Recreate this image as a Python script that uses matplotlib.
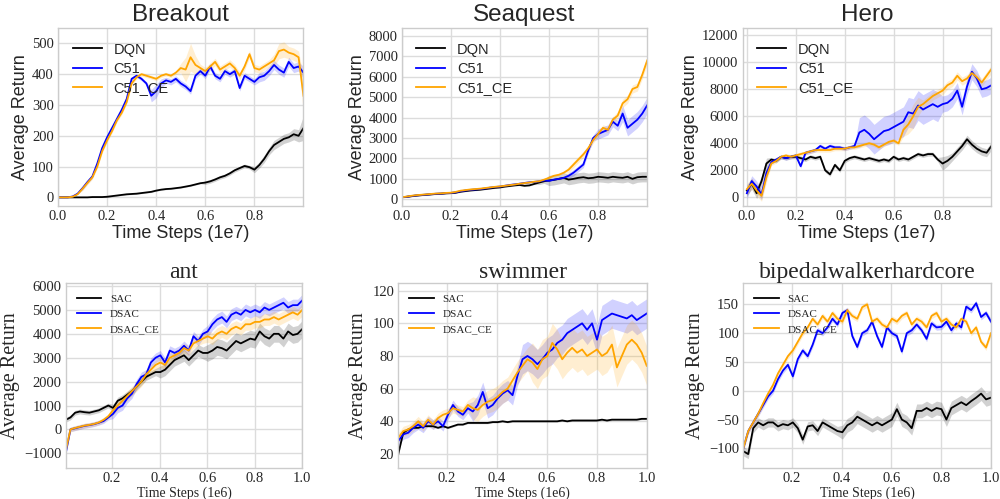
import numpy as np
import matplotlib
matplotlib.use("Agg")
import matplotlib.pyplot as plt

# ---- Atari (x in 1e7 steps) ----
atari_steps = np.linspace(0, 1.0, 51)

breakout_dqn = [0, 0, 0, 0, 0, 0, 0, 1, 1, 1,
                2, 4, 6, 8, 10, 11, 12, 14, 16, 18,
                22, 25, 27, 28, 30, 32, 35, 38, 42, 46,
                48, 52, 58, 65, 70, 78, 88, 95, 102, 98,
                90, 105, 125, 150, 170, 180, 190, 195, 205, 200,
                225]
breakout_c51 = [0, 0, 0, 3, 12, 30, 50, 68, 110, 160,
                195, 225, 255, 285, 320, 385, 395, 385, 370, 330,
                345, 370, 380, 375, 385, 370, 360, 345, 395, 410,
                395, 425, 395, 385, 410, 400, 410, 355, 395, 385,
                375, 390, 395, 410, 430, 415, 405, 440, 420, 425,
                405]
breakout_c51ce = [0, 0, 0, 2, 10, 28, 47, 65, 100, 150,
                  185, 215, 250, 275, 310, 370, 390, 400, 395, 390,
                  385, 395, 400, 395, 405, 420, 415, 455, 430, 420,
                  410, 425, 440, 415, 425, 435, 420, 395, 425, 465,
                  420, 415, 425, 435, 445, 475, 480, 470, 465, 455,
                  330]
breakout_dqn_sd = [0] * 10 + [2] * 20 + [6] * 10 + [10, 10, 12, 12, 15, 15, 15, 15, 18, 20, 40]
breakout_c51_sd = [0] * 5 + [6] * 14 + [20, 22, 15] + [10] * 19 + [15] * 9 + [20]
breakout_c51ce_sd = [0] * 5 + [6] * 20 + [15, 40, 45, 30] + [12] * 15 + [20, 25, 25, 20, 20, 20, 60]

seaquest_dqn = [100, 120, 150, 180, 200, 220, 240, 260, 270, 290,
                300, 320, 370, 400, 430, 450, 470, 500, 530, 560,
                580, 620, 650, 680, 700, 660, 680, 750, 820, 880,
                920, 950, 1000, 1050, 960, 1000, 1050, 1080, 1030, 1050,
                1100, 1080, 1050, 1100, 1070, 1050, 1100, 1000, 1080, 1100,
                1100]
seaquest_c51 = [100, 120, 160, 190, 210, 230, 250, 270, 280, 300,
                310, 340, 390, 430, 460, 480, 500, 530, 570, 600,
                620, 660, 700, 730, 760, 800, 830, 850, 880, 920,
                900, 960, 1000, 1050, 1150, 1300, 1500, 1700, 2400, 3000,
                3200, 3300, 3400, 3800, 3600, 4200, 3500, 3700, 3900, 4200,
                4600]
seaquest_c51ce = [100, 130, 170, 200, 220, 240, 260, 280, 290, 310,
                  320, 360, 420, 450, 480, 500, 520, 550, 580, 610,
                  630, 660, 690, 720, 760, 790, 820, 860, 880, 960,
                  1050, 1150, 1200, 1300, 1450, 1700, 1950, 2200, 2500, 2900,
                  3200, 3500, 3400, 3900, 4100, 4700, 4900, 5400, 5500, 6100,
                  6800]
seaquest_dqn_sd = [30] * 28 + [100] * 2 + [250] * 21
seaquest_c51_sd = [30] * 34 + [150] * 6 + [250] * 5 + [400] * 6
seaquest_c51ce_sd = [30] * 34 + [150] * 10 + [200] * 7

hero_dqn = [500, 1000, 300, 1200, 2500, 2800, 2700, 3000, 2900, 3000,
            3000, 2900, 2800, 3000, 2900, 3000, 2000, 1700, 2400, 2000,
            2700, 2900, 3000, 2900, 2800, 2900, 2800, 2700, 2800, 2700,
            3000, 2800, 2900, 2800, 3000, 3200, 3100, 3200, 3200, 2800,
            2500, 2700, 3000, 3400, 3800, 4300, 3900, 3600, 3400, 3300,
            3800]
hero_c51 = [300, 1200, 800, 200, 1800, 2600, 2800, 3000, 2900, 3000,
            3100, 2300, 3300, 3400, 3500, 3800, 3600, 3800, 3700, 3700,
            3600, 3700, 3800, 4800, 5000, 4700, 4300, 4600, 4900, 5000,
            5200, 5400, 5600, 6300, 6200, 6800, 6500, 6700, 6900, 6700,
            6900, 7000, 7300, 7900, 6700, 8200, 9300, 8800, 8000, 8100,
            8300]
hero_c51ce = [600, 1000, 500, 100, 1500, 2500, 2700, 3000, 3100, 3000,
              3100, 3200, 3300, 3400, 3500, 3500, 3500, 3500, 3600, 3600,
              3600, 3700, 3700, 3800, 3900, 4000, 3900, 3700, 3900, 4100,
              4200, 4000, 5000, 5400, 6000, 6700, 6900, 7200, 7500, 7700,
              7900, 8300, 8500, 9000, 8600, 8800, 9200, 8900, 8500, 9000,
              9500]
hero_dqn_sd = [400] * 5 + [150] * 35 + [500, 400, 300] + [300] * 8
hero_c51_sd = [400] * 5 + [150] * 18 + [1100] * 17 + [600] * 11
hero_c51ce_sd = [400] * 5 + [150] * 27 + [500, 700, 900, 700] + [300] * 15

# ---- MuJoCo / Box2D (x in 1e6 steps) ----
cont_steps = np.linspace(0.005, 1.0, 51)

ant_sac = [400, 500, 700, 750, 720, 700, 750, 800, 900, 1000,
           900, 1200, 1300, 1450, 1600, 1800, 2000, 2200, 2300, 2400,
           2400, 2500, 2700, 2900, 3000, 3100, 2900, 3100, 3300, 3200,
           3200, 3300, 3450, 3400, 3300, 3500, 3700, 3600, 3700, 3800,
           3750, 4100, 3900, 3800, 4000, 4000, 3800, 4100, 3950, 4000,
           4200]
ant_dsac = [-1000, 0, 50, 100, 150, 180, 220, 280, 350, 500,
            650, 900, 1000, 1300, 1500, 1900, 2200, 2300, 2800, 3000,
            3100, 2800, 3300, 3200, 3300, 3500, 3300, 3900, 3700, 4000,
            4100, 4400, 4600, 4700, 4500, 4800, 4900, 4800, 5000, 4900,
            5000, 4900, 5100, 5000, 5100, 5200, 5300, 5100, 5200, 5200,
            5400]
ant_dsacce = [-900, 0, 60, 110, 160, 190, 230, 290, 400, 550,
              800, 1000, 1200, 1400, 1600, 1800, 2000, 2300, 2500, 2700,
              2800, 2700, 3000, 3100, 3200, 3400, 3300, 3600, 3700, 3800,
              3900, 3800, 4000, 4100, 4000, 4200, 4300, 4200, 4400, 4400,
              4500, 4500, 4600, 4600, 4700, 4600, 4700, 4800, 4900, 4800,
              5000]
ant_sac_sd = [100] * 10 + [150] * 10 + [250] * 10 + [350] * 21
ant_dsac_sd = [100] * 10 + [200] * 20 + [250] * 21
ant_dsacce_sd = [100] * 10 + [200] * 20 + [250] * 21

swimmer_sac = [20, 33, 35, 36, 36, 37, 37, 37, 36, 37,
               36, 37, 38, 38, 39, 39, 39, 39, 39, 39.5,
               39.5, 40, 39.5, 40, 40, 40, 40, 40, 40, 40,
               40, 40, 40, 40.5, 40, 40.5, 40.5, 40.5, 40.5, 40.5,
               40.5, 41, 40.5, 41, 41, 41, 41, 41, 41, 41.5,
               41.5]
swimmer_dsac = [28, 32, 33, 36, 38, 36, 40, 38, 40, 37,
                44, 50, 46, 44, 48, 46, 50, 58, 48, 50,
                54, 57, 59, 56, 68, 78, 80, 78, 75, 78,
                82, 84, 88, 90, 94, 96, 98, 100, 96, 100,
                90, 102, 104, 106, 105, 104, 103, 105, 102, 104,
                106]
swimmer_dsacce = [30, 34, 35, 37, 40, 37, 41, 38, 42, 44,
                  45, 48, 47, 46, 50, 48, 47, 50, 52, 53,
                  55, 58, 60, 65, 70, 74, 78, 76, 72, 78,
                  80, 88, 84, 78, 82, 85, 82, 84, 80, 82,
                  84, 80, 82, 87, 73, 80, 87, 90, 87, 82,
                  74]
swimmer_sac_sd = [0.5] * 51
swimmer_dsac_sd = [3] * 15 + [6] * 10 + [9] * 26
swimmer_dsacce_sd = [3] * 15 + [7] * 12 + [12] * 24

biped_sac = [-105, -110, -65, -55, -60, -55, -55, -62, -58, -60,
             -55, -65, -85, -62, -60, -70, -55, -60, -65, -70,
             -72, -60, -55, -45, -50, -55, -60, -55, -60, -55,
             -50, -32, -50, -55, -65, -35, -35, -30, -35, -30,
             -32, -50, -30, -25, -20, -25, -18, -12, -5, -15,
             -12]
biped_dsac = [-100, -70, -55, -40, -25, -10, 0, 20, 35, 45,
              25, 55, 70, 60, 80, 105, 100, 110, 125, 115,
              135, 140, 95, 76, 100, 105, 120, 95, 76, 110,
              100, 95, 68, 100, 105, 115, 105, 90, 117, 110,
              111, 120, 105, 117, 110, 146, 140, 152, 128, 135,
              120]
biped_dsacce = [-100, -70, -55, -40, -22, -5, 10, 30, 45, 60,
                70, 85, 100, 110, 125, 115, 130, 120, 135, 125,
                120, 140, 130, 125, 145, 150, 120, 125, 115, 110,
                125, 120, 130, 135, 115, 125, 120, 110, 130, 135,
                120, 125, 115, 110, 125, 120, 100, 110, 85, 75,
                100]
biped_sac_sd = [8] * 20 + [12] * 31
biped_dsac_sd = [5] * 51
biped_dsacce_sd = [5] * 51

atari_xticks = [0.0, 0.2, 0.4, 0.6, 0.8]
cont_xticks = [0.2, 0.4, 0.6, 0.8, 1.0]

BLACK = "#000000"
BLUE = "#0000ff"
ORANGE = "#ffa500"
GRID = "#dcdcdc"
TEXT = "#262626"
SANS = ["Liberation Sans", "DejaVu Sans"]
SERIF = ["Liberation Serif", "DejaVu Serif"]

plt.rcParams["font.family"] = SERIF
plt.rcParams["text.color"] = TEXT
plt.rcParams["axes.labelcolor"] = TEXT
plt.rcParams["xtick.color"] = TEXT
plt.rcParams["ytick.color"] = TEXT

fig = plt.figure(figsize=(10, 4.99), dpi=100)


def draw(rect, x, curves, names, title, xlabel, xlim, ylim, xticks, yticks, atari):
    ax = fig.add_axes(rect)
    for (mean, sd), name, color in zip(curves, names, [BLACK, BLUE, ORANGE]):
        mean = np.array(mean, dtype=float)
        sd = np.array(sd, dtype=float)
        ax.fill_between(x, mean - sd, mean + sd, color=color, alpha=0.18, lw=0)
        ax.plot(x, mean, color=color, lw=1.3, label=name)
    ax.set_xlim(*xlim)
    ax.set_ylim(*ylim)
    ax.set_xticks(xticks)
    ax.set_yticks(yticks)
    ax.grid(True, color=GRID, lw=1.0)
    ax.set_axisbelow(True)
    for s in ax.spines.values():
        s.set_color("#cccccc")
        s.set_linewidth(1.0)
    ax.tick_params(length=0, labelsize=10.5, pad=3)
    if atari:
        ax.set_title(title, fontsize=17.5, family=SANS, pad=5)
        ax.set_xlabel(xlabel, fontsize=13, family=SANS, labelpad=1)
        ax.set_ylabel("Average Return", fontsize=13, family=SANS, labelpad=2)
        ax.legend(loc="upper left", frameon=False, prop={"family": SANS, "size": 10.5},
                  handlelength=2.0, handletextpad=0.8, labelspacing=0.35,
                  borderaxespad=0.6)
    else:
        ax.set_title(title, fontsize=17, family=SERIF, pad=4)
        ax.set_xlabel(xlabel, fontsize=10, family=SERIF, labelpad=1)
        ax.set_ylabel("Average Return", fontsize=14.5, family=SERIF, labelpad=3)
        ax.legend(loc="upper left", frameon=False, prop={"family": SERIF, "size": 8},
                  handlelength=2.2, handletextpad=0.8, labelspacing=0.45,
                  borderaxespad=0.6)
    return ax


atari_names = ["DQN", "C51", "C51_CE"]
cont_names = ["SAC", "DSAC", "DSAC_CE"]

draw([0.058, 0.5872, 0.245, 0.3567], atari_steps,
     [(breakout_dqn, breakout_dqn_sd), (breakout_c51, breakout_c51_sd),
      (breakout_c51ce, breakout_c51ce_sd)],
     atari_names, "Breakout", "Time Steps (1e7)", (0, 0.998), (-28, 550),
     atari_xticks, [0, 100, 200, 300, 400, 500], True)
draw([0.4017, 0.5872, 0.245, 0.3567], atari_steps,
     [(seaquest_dqn, seaquest_dqn_sd), (seaquest_c51, seaquest_c51_sd),
      (seaquest_c51ce, seaquest_c51ce_sd)],
     atari_names, "Seaquest", "Time Steps (1e7)", (0, 0.998), (-330, 8390),
     atari_xticks, list(range(0, 8001, 1000)), True)
draw([0.7427, 0.5872, 0.2483, 0.3567], atari_steps,
     [(hero_dqn, hero_dqn_sd), (hero_c51, hero_c51_sd),
      (hero_c51ce, hero_c51ce_sd)],
     atari_names, "Hero", "Time Steps (1e7)", (-0.017, 0.998), (-645, 12540),
     atari_xticks, list(range(0, 12001, 2000)), True)

draw([0.0657, 0.0615, 0.2366, 0.3707], cont_steps,
     [(ant_sac, ant_sac_sd), (ant_dsac, ant_dsac_sd), (ant_dsacce, ant_dsacce_sd)],
     cont_names, "ant", "Time Steps (1e6)", (0.005, 1.0), (-1628, 6113),
     cont_xticks, list(range(-1000, 6001, 1000)), False)
draw([0.3983, 0.0615, 0.2484, 0.3707], cont_steps,
     [(swimmer_sac, swimmer_sac_sd), (swimmer_dsac, swimmer_dsac_sd),
      (swimmer_dsacce, swimmer_dsacce_sd)],
     cont_names, "swimmer", "Time Steps (1e6)", (0.005, 1.0), (11.2, 124.5),
     cont_xticks, list(range(20, 121, 20)), False)
draw([0.7433, 0.0615, 0.2477, 0.3707], cont_steps,
     [(biped_sac, biped_sac_sd), (biped_dsac, biped_dsac_sd),
      (biped_dsacce, biped_dsacce_sd)],
     cont_names, "bipedalwalkerhardcore", "Time Steps (1e6)", (0.005, 1.0), (-134.7, 186.5),
     cont_xticks, [-100, -50, 0, 50, 100, 150], False)

fig.savefig("out.png", dpi=100)
